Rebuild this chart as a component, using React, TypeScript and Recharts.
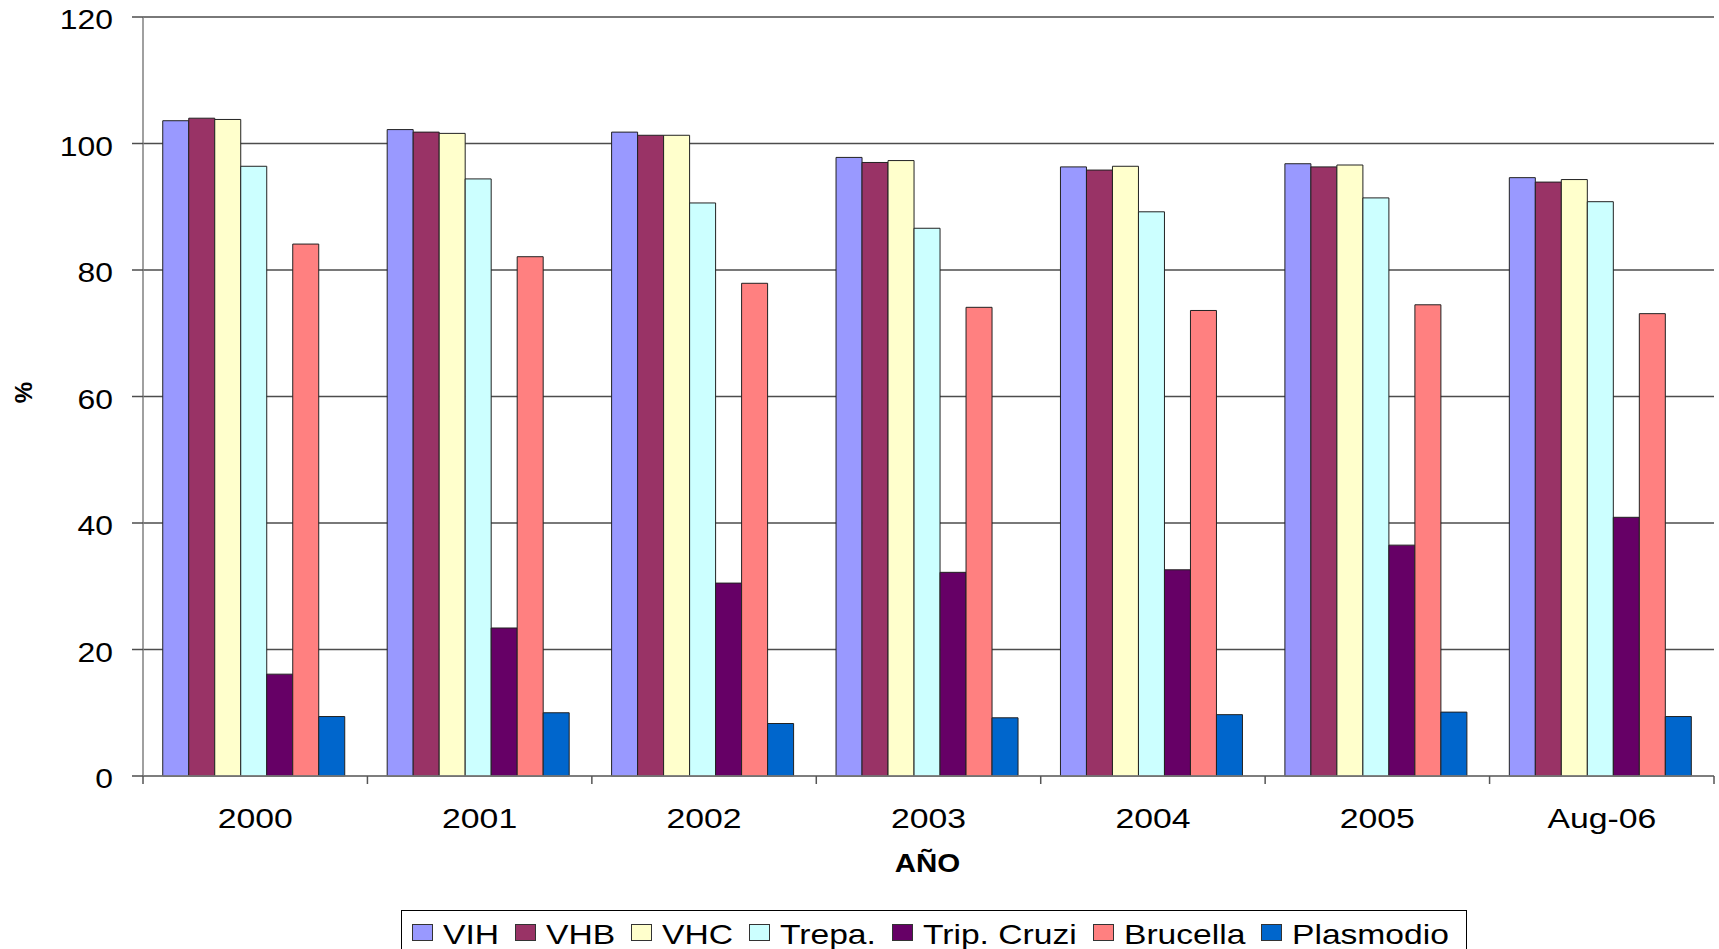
import React from 'react';
import { BarChart, Bar, XAxis, YAxis, CartesianGrid, Legend } from 'recharts';

const CATEGORIES = ['2000', '2001', '2002', '2003', '2004', '2005', 'Aug-06'];
const VIH = [103.6, 102.2, 101.8, 97.8, 96.3, 96.8, 94.6];
const VHB = [104.0, 101.8, 101.3, 97.0, 95.8, 96.3, 93.9];
const VHC = [103.8, 101.6, 101.3, 97.3, 96.4, 96.6, 94.3];
const TREPA = [96.4, 94.4, 90.6, 86.6, 89.2, 91.4, 90.8];
const TRIP_CRUZI = [16.1, 23.4, 30.5, 32.2, 32.6, 36.5, 40.9];
const BRUCELLA = [84.1, 82.1, 77.9, 74.1, 73.6, 74.5, 73.1];
const PLASMODIO = [9.4, 10.0, 8.3, 9.2, 9.7, 10.1, 9.4];
const Y_TICKS = [0, 20, 40, 60, 80, 100, 120];

const SERIES = [
  { key: 'VIH', name: 'VIH', values: VIH, color: '#9999FF' },
  { key: 'VHB', name: 'VHB', values: VHB, color: '#993366' },
  { key: 'VHC', name: 'VHC', values: VHC, color: '#FFFFCC' },
  { key: 'TREPA', name: 'Trepa.', values: TREPA, color: '#CCFFFF' },
  { key: 'TRIP', name: 'Trip. Cruzi', values: TRIP_CRUZI, color: '#660066' },
  { key: 'BRUC', name: 'Brucella', values: BRUCELLA, color: '#FF8080' },
  { key: 'PLAS', name: 'Plasmodio', values: PLASMODIO, color: '#0066CC' },
];

const data = CATEGORIES.map((c, i) => {
  const row: any = { cat: c };
  SERIES.forEach((s) => (row[s.key] = s.values[i]));
  return row;
});

const FONT = '"Liberation Sans", Arial, Helvetica, sans-serif';

function measure(text: string, size: number): number {
  try {
    const c = document.createElement('canvas');
    const ctx = c.getContext('2d');
    if (ctx) {
      ctx.font = `${size}px "Liberation Sans"`;
      return ctx.measureText(text).width;
    }
  } catch (e) {}
  return text.length * size * 0.55;
}

const YTick = (props: any) => {
  const { x, y, payload } = props;
  return (
    <text
      x={x}
      y={y + 12.5}
      textAnchor="end"
      fontSize={27}
      fontFamily={FONT}
      fill="#000"
      transform={`translate(${x} 0) scale(1.18 1) translate(${-x} 0)`}
    >
      {payload.value}
    </text>
  );
};

const XTick = (props: any) => {
  const { x, y, payload, index } = props;
  const half = payload && typeof payload.offset === 'number' && payload.offset > 0 ? payload.offset : 112.2;
  const axisY = y - 8;
  return (
    <g>
      <line x1={x - half} x2={x - half} y1={axisY} y2={axisY + 8} stroke="#555" strokeWidth={1.5} />
      {index === CATEGORIES.length - 1 && (
        <line x1={x + half} x2={x + half} y1={axisY} y2={axisY + 8} stroke="#555" strokeWidth={1.5} />
      )}
      <text
        x={x}
        y={axisY + 52}
        textAnchor="middle"
        fontSize={27}
        fontFamily={FONT}
        fill="#000"
        transform={`translate(${x} 0) scale(1.25 1) translate(${-x} 0)`}
      >
        {payload.value}
      </text>
    </g>
  );
};

const YLabel = (props: any) => {
  const vb = props.viewBox || { x: 0, y: 17, width: 143, height: 759 };
  const cx = vb.x + 23;
  const cy = vb.y + vb.height / 2 - 4;
  return (
    <text
      x={cx}
      y={cy}
      textAnchor="middle"
      dominantBaseline="central"
      fontSize={24}
      fontWeight="bold"
      fontFamily={FONT}
      transform={`rotate(-90 ${cx} ${cy})`}
    >
      %
    </text>
  );
};

const XLabel = (props: any) => {
  const vb = props.viewBox || { x: 143, y: 776, width: 1571, height: 60 };
  const cx = vb.x + vb.width / 2 - 1;
  const by = 872;
  return (
    <text
      x={cx}
      y={by}
      textAnchor="middle"
      fontSize={25}
      fontWeight="bold"
      fontFamily={FONT}
      transform={`translate(${cx} 0) scale(1.18 1) translate(${-cx} 0)`}
    >
      AÑO
    </text>
  );
};

const SX = 1.2;
const LegendContent = () => (
  <div
    style={{
      boxSizing: 'border-box',
      border: '1px solid #000',
      width: '100%',
      height: '100%',
      paddingTop: 7.5,
      paddingLeft: 10,
      display: 'flex',
      alignItems: 'flex-start',
      background: '#fff',
    }}
  >
    {SERIES.map((s) => {
      const w = measure(s.name, 28) * SX;
      return (
        <div key={s.key} style={{ display: 'flex', alignItems: 'center', height: 28, marginRight: 16 }}>
          <span
            style={{
              display: 'inline-block',
              boxSizing: 'border-box',
              width: 21,
              height: 17,
              background: s.color,
              border: '1px solid #333',
              marginRight: 10,
            }}
          />
          <span style={{ display: 'inline-block', width: w, height: 28, overflow: 'visible' }}>
            <span
              style={{
                display: 'inline-block',
                position: 'relative',
                top: 2,
                fontFamily: FONT,
                fontSize: 28,
                lineHeight: '28px',
                whiteSpace: 'nowrap',
                color: '#000',
                transform: `scaleX(${SX})`,
                transformOrigin: 'left center',
              }}
            >
              {s.name}
            </span>
          </span>
        </div>
      );
    })}
  </div>
);

export default function App() {
  return (
    <div style={{ position: 'absolute', left: 0, top: 0, width: 1719, height: 949, overflow: 'hidden', background: '#fff' }}>
      <BarChart
        width={1719}
        height={949}
        data={data}
        margin={{ top: 17, right: 5, bottom: 113, left: 0 }}
        barGap={0}
        barCategoryGap="8.8%"
      >
        <CartesianGrid vertical={false} stroke="#4d4d4d" strokeWidth={1.5} />
        <XAxis
          dataKey="cat"
          interval={0}
          height={60}
          tickLine={false}
          tickSize={8}
          tickMargin={0}
          axisLine={{ stroke: '#808080', strokeWidth: 1.5 }}
          tick={<XTick />}
          label={<XLabel />}
        />
        <YAxis
          width={143}
          domain={[0, 120]}
          ticks={Y_TICKS}
          interval={0}
          tickSize={11}
          tickMargin={19}
          tickLine={{ stroke: '#4d4d4d', strokeWidth: 1.5 }}
          axisLine={{ stroke: '#808080', strokeWidth: 1.5 }}
          tick={<YTick />}
          label={<YLabel />}
        />
        {SERIES.map((s) => (
          <Bar
            key={s.key}
            dataKey={s.key}
            name={s.name}
            fill={s.color}
            stroke="#222"
            strokeWidth={1}
            isAnimationActive={false}
          />
        ))}
        <Legend
          layout="vertical"
          align="center"
          verticalAlign="middle"
          content={<LegendContent />}
          wrapperStyle={{ position: 'absolute', left: 401, top: 910, width: 1066, height: 50, margin: 0, padding: 0 }}
        />
      </BarChart>
    </div>
  );
}
